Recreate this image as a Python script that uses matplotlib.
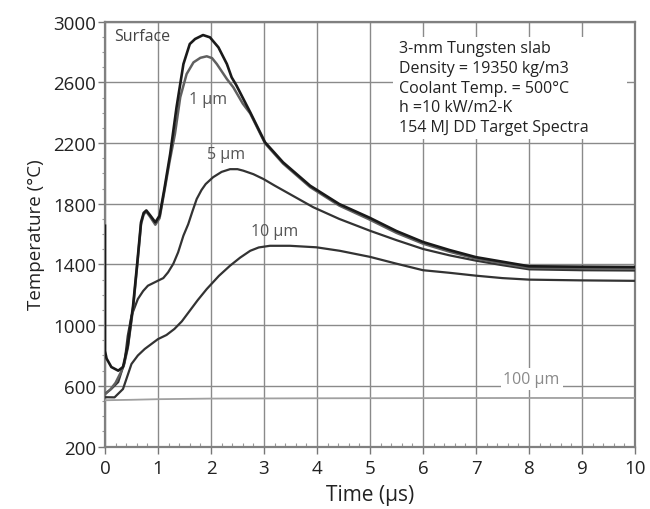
"""Tungsten slab temperature vs time at several depths."""

import matplotlib
matplotlib.use('Agg')
import matplotlib.pyplot as plt
from matplotlib.patches import Rectangle
from matplotlib.ticker import MultipleLocator

plt.rcParams['font.family'] = ['Open Sans', 'DejaVu Sans']

# Data: time (us), temperature (C)
t_surf = [0, 0, 0.03, 0.12, 0.25, 0.34, 0.43, 0.53, 0.61, 0.68, 0.73, 0.78, 0.85, 0.95,
          1.03, 1.12, 1.23, 1.35, 1.48, 1.6, 1.7, 1.85, 1.98, 2.14, 2.3, 2.39, 2.48,
          2.74, 3.02, 3.36, 3.87, 4.42, 4.98, 5.5, 6.0, 6.5, 7.0, 7.5, 8.0, 9.0, 10.0]
T_surf = [1655, 830, 780, 724, 700, 724, 864, 1128, 1414, 1678, 1740, 1756, 1725, 1678,
          1721, 1897, 2128, 2436, 2721, 2853, 2886, 2912, 2897, 2831, 2721, 2633, 2580,
          2403, 2205, 2073, 1919, 1798, 1710, 1620, 1548, 1495, 1448, 1418, 1388, 1385, 1383]

t_1um = [0, 0.1, 0.2, 0.3, 0.36, 0.43, 0.53, 0.61, 0.68, 0.73, 0.78, 0.85, 0.95,
         1.03, 1.12, 1.22, 1.32, 1.42, 1.54, 1.67, 1.8, 1.92, 2.02, 2.11, 2.3, 2.42,
         2.6, 2.74, 3.02, 3.36, 3.87, 4.42, 4.98, 5.5, 6.0, 6.5, 7.0, 7.5, 8.0, 9.0, 10.0]
T_1um = [545, 575, 620, 690, 740, 850, 1110, 1400, 1665, 1730, 1748, 1715, 1662,
         1705, 1880, 2080, 2260, 2502, 2655, 2732, 2762, 2772, 2760, 2721, 2622, 2568,
         2460, 2395, 2198, 2065, 1910, 1788, 1698, 1608, 1537, 1484, 1438, 1408, 1378, 1375, 1373]

t_5um = [0, 0.12, 0.25, 0.37, 0.43, 0.5, 0.62, 0.72, 0.81, 1.0, 1.1, 1.19, 1.29, 1.38,
         1.48, 1.57, 1.65, 1.73, 1.82, 1.9, 2.04, 2.2, 2.36, 2.5, 2.61, 2.8, 2.99, 3.2,
         3.43, 3.93, 4.42, 5.0, 5.5, 6.0, 6.5, 7.0, 7.5, 8.0, 9.0, 10.0]
T_5um = [547, 580, 625, 757, 930, 1062, 1172, 1225, 1260, 1293, 1310, 1348, 1405, 1480,
         1590, 1665, 1750, 1831, 1890, 1930, 1975, 2010, 2028, 2028, 2018, 1995, 1963, 1920,
         1875, 1777, 1700, 1622, 1560, 1502, 1460, 1425, 1395, 1368, 1362, 1360]

t_10um = [0, 0.18, 0.34, 0.5, 0.62, 0.75, 1.0, 1.16, 1.31, 1.45, 1.6, 1.75, 1.92, 2.15,
          2.36, 2.55, 2.74, 2.9, 3.11, 3.49, 3.99, 4.43, 5.0, 5.5, 6.0, 6.5, 7.0, 7.5,
          8.0, 9.0, 10.0]
T_10um = [525, 524, 579, 744, 800, 843, 908, 935, 975, 1025, 1095, 1165, 1238, 1325,
          1392, 1445, 1490, 1512, 1523, 1523, 1513, 1490, 1450, 1405, 1362, 1345, 1326, 1310,
          1300, 1295, 1292]

t_100um = [0, 0.5, 1.0, 2.0, 4.0, 6.0, 8.0, 10.0]
T_100um = [505, 508, 512, 516, 518, 519, 520, 520]

info = ('3-mm Tungsten slab\nDensity = 19350 kg/m3\nCoolant Temp. = 500°C\n'
        'h =10 kW/m2-K\n154 MJ DD Target Spectra')

fig = plt.figure(figsize=(6.5, 5.1), dpi=100)
ax = fig.add_axes([0.1615, 0.1225, 0.8155, 0.833])

ax.plot(t_100um, T_100um, color='#a0a0a0', lw=1.3, zorder=3)
ax.plot(t_10um, T_10um, color='#333333', lw=1.6, zorder=4)
ax.plot(t_5um, T_5um, color='#333333', lw=1.6, zorder=4)
ax.plot(t_1um, T_1um, color='#606060', lw=1.8, zorder=5)
ax.plot(t_surf, T_surf, color='#1a1a1a', lw=1.9, zorder=6)

lab_kw = dict(fontsize=11.5, color='#555555', ha='center', va='center', zorder=7)
ax.text(0.17, 2905, 'Surface', fontsize=11.5, color='#444444', ha='left', va='center', zorder=7)
ax.text(1.95, 2490, '1 µm', **lab_kw)
ax.text(2.28, 2128, '5 µm', **lab_kw)
ax.text(3.2, 1622, '10 µm', **lab_kw)
ax.text(8.05, 645, '100 µm', fontsize=11.5, color='#8a8a8a', ha='center', va='center', zorder=7,
        bbox=dict(facecolor='white', edgecolor='none', pad=2))

ax.add_patch(Rectangle((5.43, 2226), 4.42, 674, facecolor='white', edgecolor='none', zorder=2))
ax.text(5.55, 2880, info, fontsize=11.5, color='#222222', ha='left', va='top',
        linespacing=1.32, zorder=7)

ax.set_xlim(0, 10)
ax.set_ylim(200, 3000)
ax.set_xticks(range(0, 11))
ax.set_yticks(range(200, 3001, 400))
ax.xaxis.set_minor_locator(MultipleLocator(0.2))
ax.yaxis.set_minor_locator(MultipleLocator(100))
ax.tick_params(which='major', direction='out', length=5, width=1, color='#777777',
               labelsize=13.5, labelcolor='#222222', pad=1.5)
ax.tick_params(axis='x', which='major', pad=4)
ax.tick_params(axis='x', which='minor', direction='in', length=3, width=0.8, color='#999999')
ax.tick_params(axis='y', which='minor', direction='out', length=2.5, width=0.8, color='#999999')
ax.grid(which='major', color='#8a8a8a', lw=1.0, zorder=1)
ax.set_axisbelow(True)
for s in ax.spines.values():
    s.set_color('#808080')
    s.set_linewidth(1.6)

ax.set_xlabel('Time (µs)', fontsize=15, color='#222222', labelpad=5)
ax.set_ylabel('Temperature (°C)', fontsize=13.5, color='#222222', labelpad=6)

fig.savefig('out.png', dpi=100)
